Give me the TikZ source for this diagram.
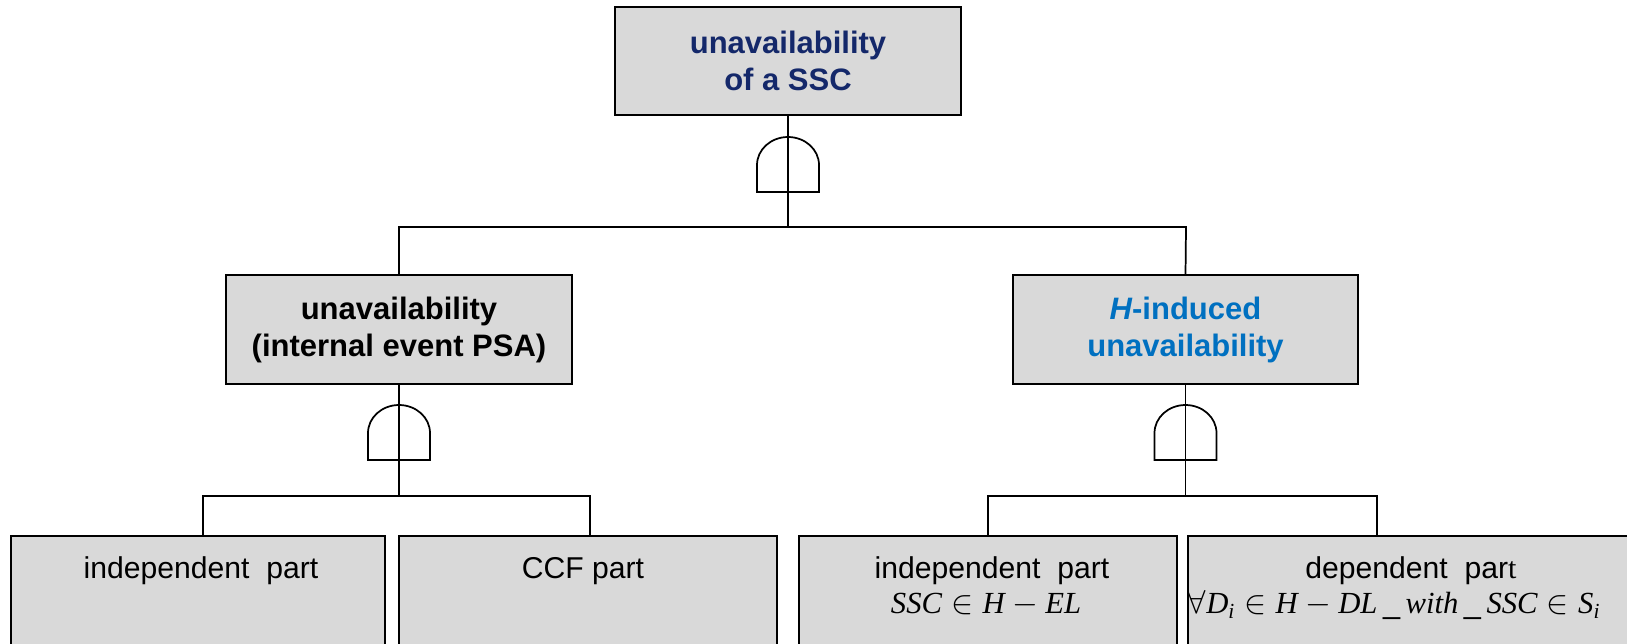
\documentclass[tikz,border=0pt]{standalone}
\usepackage{fontspec}
\setmainfont{Liberation Sans}
\newfontfamily\timesfont[NFSSFamily=ltimes]{Liberation Serif}
\DeclareMathAlphabet{\mathtm}{TU}{ltimes}{m}{it}
\definecolor{navy}{HTML}{14286A}
\definecolor{hblue}{HTML}{0070C0}
\definecolor{boxgray}{HTML}{D9D9D9}
\tikzset{
  evbox/.style={draw=black, line width=2pt, fill=boxgray, inner sep=0pt, outer sep=0pt},
  headtext/.style={align=center, font=\fontsize{23.25}{27.75}\selectfont\bfseries, inner sep=0pt},
  parttext/.style={font=\fontsize{22.6}{27}\selectfont, inner sep=0pt},
  mathtext/.style={font=\fontsize{23}{27}\selectfont, inner sep=0pt},
  conn/.style={draw=black, line width=1.3pt},
  gateline/.style={draw=black, line width=1.3pt},
  andgate/.pic={\draw[gateline] (-31,55) -- (-31,28) arc[start angle=180,end angle=0,x radius=23.25pt,y radius=21pt] -- (31,55) -- cycle;}
}
\begin{document}
\begin{tikzpicture}[x=0.75pt,y=-0.75pt]
\useasboundingbox (0,0) rectangle (1627,643);
\clip (0,0) rectangle (1627,643);
% boxes
\node[evbox, minimum width=259.5pt, minimum height=81pt] (top) at (788,61) {};
\node[evbox, minimum width=259.5pt, minimum height=81.75pt] (midL) at (399,329.5) {};
\node[evbox, minimum width=258.75pt, minimum height=81.75pt] (midR) at (1185.5,329.5) {};
\node[evbox, minimum width=280.5pt, minimum height=123pt] (bot1) at (198,618) {};
\node[evbox, minimum width=283.5pt, minimum height=123pt] (bot2) at (588,618) {};
\node[evbox, minimum width=283.5pt, minimum height=123pt] (bot3) at (988,618) {};
\node[evbox, minimum width=399pt, minimum height=123pt] (bot4) at (1454,618) {};
% texts
\node[headtext, text=navy] (topt) at (top.center) {unavailability\\of a SSC};
\node[headtext] (midLt) at (midL.center) {unavailability\\(internal event PSA)};
\node[headtext, text=hblue] (midRt) at (midR.center) {{\itshape H}-induced\\unavailability};
\node[parttext] (b1t) at (201,571) {independent\ \ part};
\node[parttext] (b2t) at (583,571) {CCF part};
\node[parttext] (b3t) at (992,571) {independent\ \ part};
\node[parttext] (b4t) at (1411,571) {dependent\ \ par{\timesfont t}};
\node[mathtext] (b3m) at (986,605) {$\mathtm{SSC} \in \mathtm{H} - \mathtm{EL}$};
\node[mathtext] (b4m) at (1394,605) {$\forall \mathtm{D}_{\mathtm{i}} \in \mathtm{H} - \mathtm{DL}\,\_\,\mathtm{with}\,\_\,\mathtm{SSC} \in \mathtm{S}_{\mathtm{i}}$};
% junction coordinates
\coordinate (j0L) at (399,227);
\coordinate (j0R) at (1186,227);
\coordinate (j1L) at (203,496);
\coordinate (j1R) at (590,496);
\coordinate (j2L) at (988,496);
\coordinate (j2R) at (1377,496);
% connectors
\draw[conn] (top.south) -- (top.south |- j0L);
\draw[conn] (midL.north) -- (j0L) -- (j0R) -- (midR.north);
\draw[conn] (midL.south) -- (midL.south |- j1L);
\draw[conn] (bot1.north -| j1L) -- (j1L) -- (j1R) -- (bot2.north -| j1R);
\draw[conn] (midR.south) -- (midR.south |- j2L);
\draw[conn] (bot3.north -| j2L) -- (j2L) -- (j2R) -- (bot4.north -| j2R);
% gates
\pic at (788,137) {andgate};
\pic at (399,405) {andgate};
\pic at (1185.5,405) {andgate};
\end{tikzpicture}
\end{document}
